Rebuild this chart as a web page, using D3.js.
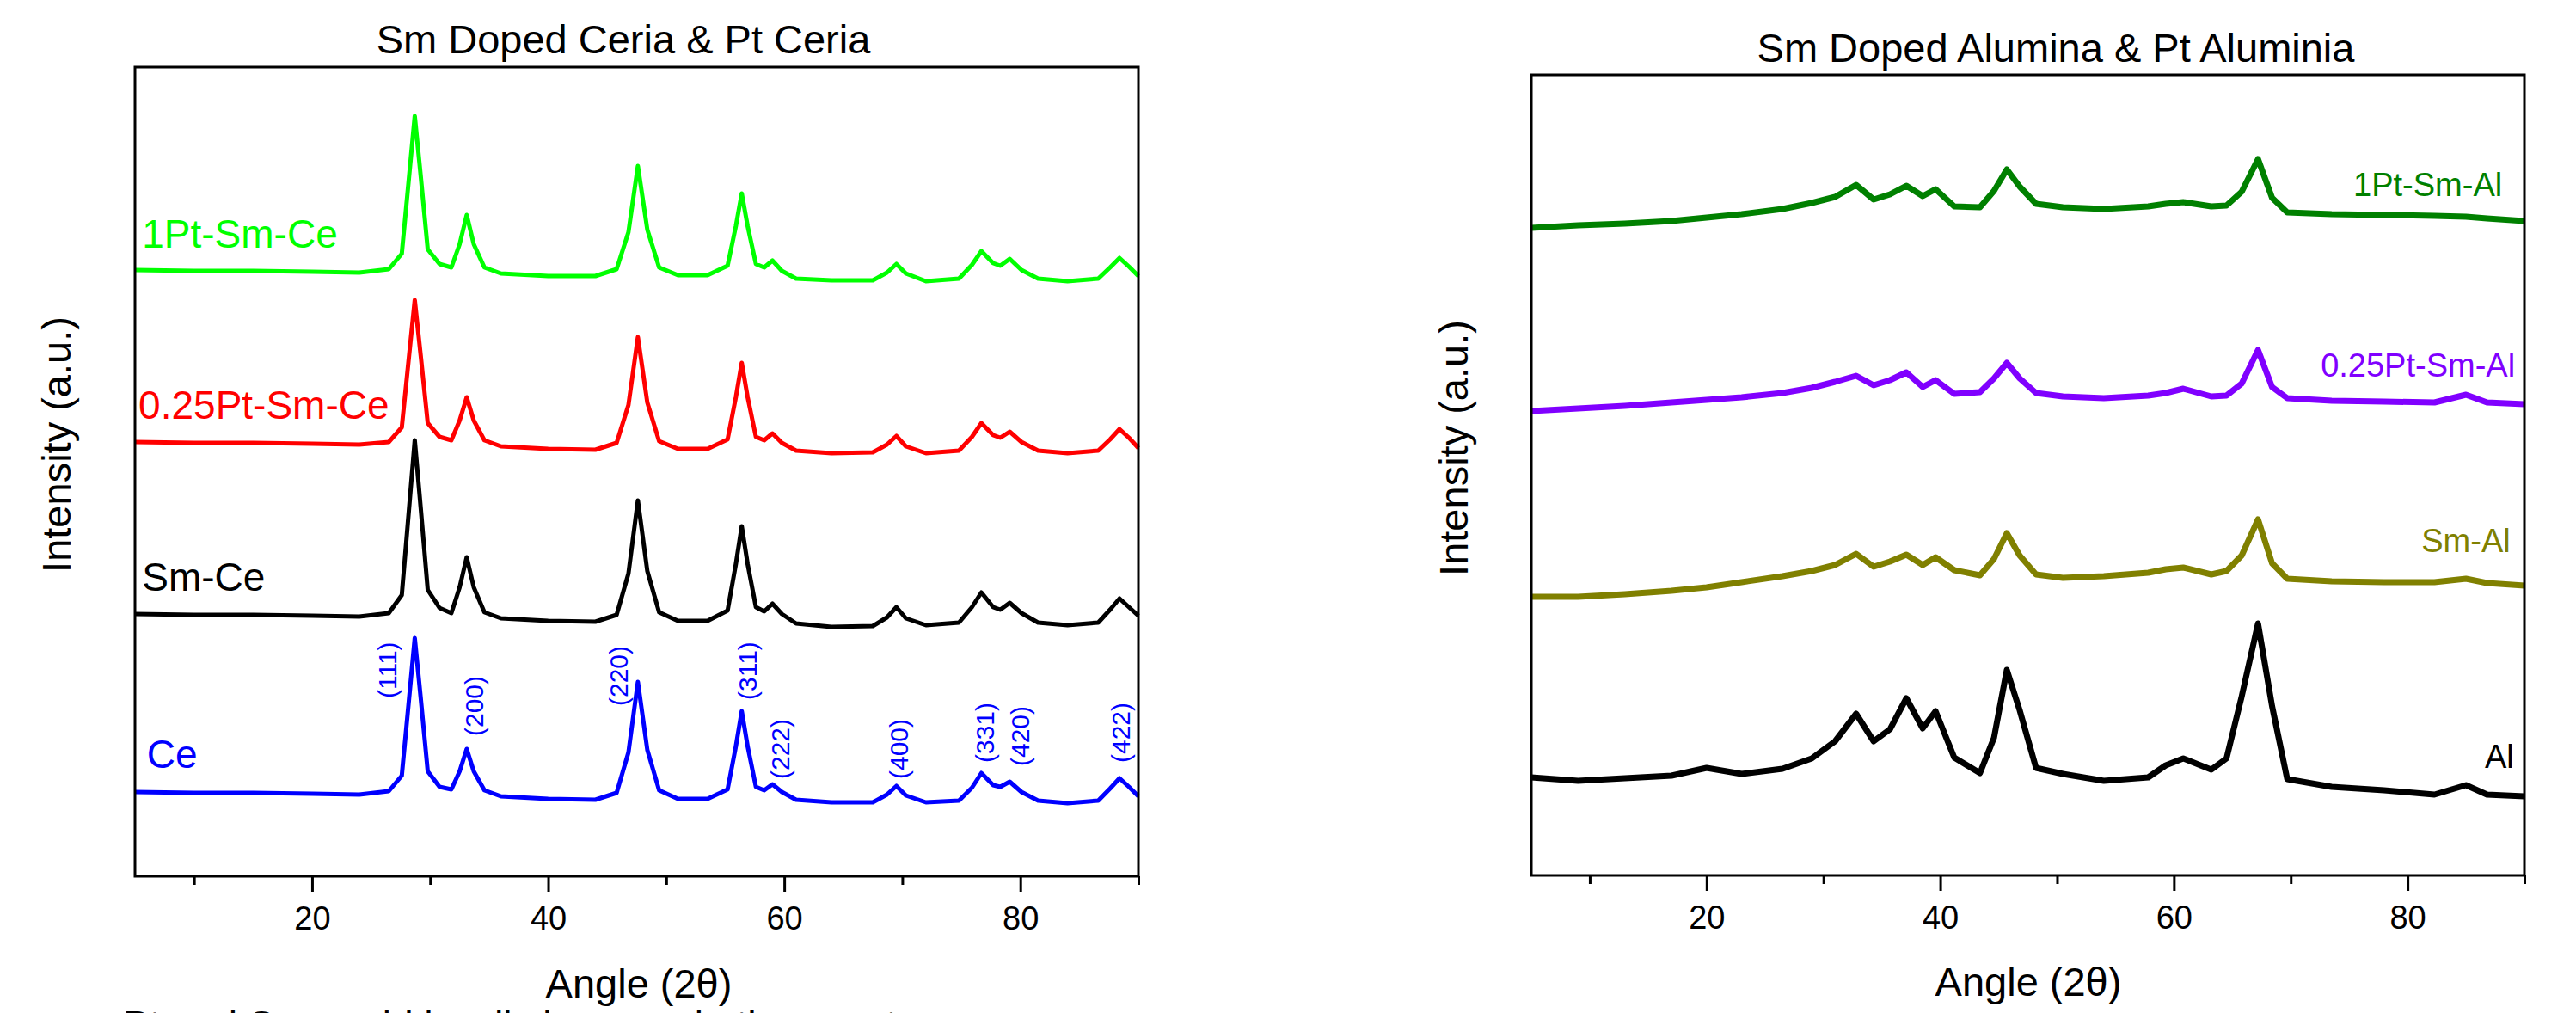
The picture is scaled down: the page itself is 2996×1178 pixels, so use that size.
<!DOCTYPE html>
<html>
<head>
<meta charset="utf-8">
<script src="https://cdn.jsdelivr.net/npm/d3@7"></script>
<style>
  body { margin: 0; background: #fff; }
  svg { display: block; font-family: "Liberation Sans", Arial, sans-serif; }
</style>
</head>
<body>
<script>
// XRD patterns: doped ceria (left) and doped alumina (right), stacked traces

// ceria panel, 2theta positions and intensities (a.u., already offset per trace)
const ceriaAngles = [5, 10, 15, 20, 24, 26.5, 27.6, 28.2, 28.7, 29.2, 29.8, 30.8, 31.8, 32.5, 33.1,
  33.7, 34.6, 36, 40, 44, 45.8, 46.8, 47.6, 48.4, 49.4, 51, 53.5, 55.2, 55.9, 56.4,
  56.9, 57.6, 58.3, 59.0, 59.8, 61, 64, 67.5, 68.7, 69.5, 70.3, 72, 74.8, 75.9, 76.7,
  77.7, 78.3, 79.1, 80.1, 81.5, 84, 86.6, 87.6, 88.4, 89.2, 90];

const ceValues = [98, 97, 97, 96, 95, 99, 117, 204, 277, 208, 122, 104, 101, 122, 148,
  122, 100, 93, 90, 89, 97, 144, 226, 147, 100, 90, 90, 101, 151, 192,
  151, 104, 100, 107, 98, 89, 86, 86, 95, 105, 94, 86, 88, 103, 120,
  106, 104, 110, 98, 88, 85, 88, 102, 114, 104, 93];

const smCeValues = [305, 304, 304, 303, 302, 306, 327, 425, 507, 429, 333, 312, 306, 336, 371,
  336, 307, 300, 297, 296, 304, 352, 437, 355, 307, 297, 297, 309, 363, 407,
  363, 313, 308, 317, 305, 294, 290, 291, 301, 313, 300, 292, 295, 313, 330,
  313, 310, 318, 306, 295, 292, 295, 310, 323, 313, 303];

const pt025CeValues = [505, 504, 504, 503, 502, 505, 522, 603, 670, 606, 527, 511, 507, 530, 557,
  530, 507, 500, 497, 496, 504, 548, 627, 551, 506, 497, 497, 508, 557, 597,
  557, 511, 507, 515, 504, 495, 492, 493, 502, 512, 500, 492, 495, 511, 527,
  513, 510, 517, 505, 495, 492, 495, 508, 520, 510, 498];

const pt1CeValues = [705, 704, 704, 703, 702, 706, 724, 811, 884, 815, 729, 712, 708, 735, 769,
  735, 708, 701, 698, 698, 706, 749, 826, 752, 708, 699, 699, 710, 756, 794,
  756, 712, 708, 716, 704, 695, 693, 693, 702, 712, 701, 692, 695, 711, 727,
  713, 710, 718, 705, 695, 692, 695, 708, 719, 709, 698];

// reflections marked on the Ce trace
const hklLabels = ['(111)', '(200)', '(220)', '(311)', '(222)', '(400)', '(331)', '(420)', '(422)'];
const hklAngles = [26.4, 33.7, 46.0, 56.9, 59.7, 69.7, 77.0, 80.0, 88.5];
const hklHeights = [207, 163, 198, 205, 113, 113, 132, 128, 132];

// alumina panel
const aluminaAngles = [5, 9, 13, 17, 20, 23, 26.5, 29, 31, 32.8, 34.3, 35.7, 37.1, 38.5, 39.6,
  41.2, 43.4, 44.6, 45.7, 46.8, 48.2, 50.5, 54, 57.8, 59.3, 60.8, 63.2, 64.5, 65.8, 67.2,
  68.4, 69.7, 73.5, 78, 82.3, 85, 86.8, 90];

const alValues = [114, 110, 113, 116, 125, 118, 124, 136, 156, 188, 156, 170, 206, 171, 191,
  137, 119, 160, 239, 192, 125, 118, 110, 114, 128, 136, 123, 136, 208, 293,
  197, 112, 103, 99, 94, 105, 94, 92];

const smAlValues = [324, 324, 327, 331, 335, 341, 348, 354, 361, 374, 359, 365, 373, 361, 370,
  355, 349, 368, 398, 372, 350, 346, 348, 352, 356, 358, 350, 354, 372, 414,
  363, 345, 342, 341, 341, 345, 340, 337];

const pt025AlValues = [540, 543, 546, 550, 553, 556, 561, 567, 574, 581, 570, 576, 585, 568, 576,
  560, 562, 578, 596, 578, 561, 557, 555, 558, 561, 566, 557, 558, 572, 611,
  568, 555, 552, 551, 550, 559, 550, 548];

const pt1AlValues = [753, 756, 758, 761, 765, 769, 775, 782, 789, 803, 786, 792, 802, 790, 798,
  778, 777, 796, 821, 801, 781, 777, 775, 778, 781, 783, 778, 779, 795, 833,
  788, 771, 769, 768, 767, 766, 764, 761];

const majorTicks = [20, 40, 60, 80];
const minorTicks = [10, 30, 50, 70, 90];

const svg = d3.select('body').append('svg')
  .attr('width', 2996)
  .attr('height', 1178);

const panels = [
  {
    title: 'Sm Doped Ceria & Pt Ceria', titleX: 725, titleY: 62,
    left: 157, right: 1324, top: 78, bottom: 1019,
    yTitleX: 82, yTitleY: 517, xTitleX: 743, xTitleY: 1160,
    angles: ceriaAngles, stroke: 5, labelSize: 46, labelAnchor: 'start',
    series: [
      { name: 'Ce', values: ceValues, color: '#0000ff', labelAt: [6.0, 126] },
      { name: 'Sm-Ce', values: smCeValues, color: '#000000', labelAt: [5.6, 332] },
      { name: '0.25Pt-Sm-Ce', values: pt025CeValues, color: '#ff0000', labelAt: [5.3, 532] },
      { name: '1Pt-Sm-Ce', values: pt1CeValues, color: '#00ff00', labelAt: [5.6, 731] }
    ],
    hkl: true
  },
  {
    title: 'Sm Doped Alumina & Pt Aluminia', titleX: 2391, titleY: 72,
    left: 1781, right: 2936, top: 87, bottom: 1018,
    yTitleX: 1707, yTitleY: 521, xTitleX: 2359, xTitleY: 1158,
    angles: aluminaAngles, stroke: 7, labelSize: 38, labelAnchor: 'end',
    series: [
      { name: 'Al', values: alValues, color: '#000000', labelAt: [89.1, 125] },
      { name: 'Sm-Al', values: smAlValues, color: '#808000', labelAt: [88.8, 376] },
      { name: '0.25Pt-Sm-Al', values: pt025AlValues, color: '#8000ff', labelAt: [89.2, 580] },
      { name: '1Pt-Sm-Al', values: pt1AlValues, color: '#008000', labelAt: [88.1, 790] }
    ],
    hkl: false
  }
];

panels.forEach(p => {
  const x = d3.scaleLinear().domain([5, 90]).range([p.left, p.right]);
  const y = d3.scaleLinear().domain([0, p.bottom - p.top]).range([p.bottom, p.top]);
  const g = svg.append('g');

  const line = d3.line()
    .x((d, i) => x(p.angles[i]))
    .y(d => y(d));

  p.series.forEach(s => {
    g.append('path')
      .attr('d', line(s.values))
      .attr('fill', 'none')
      .attr('stroke', s.color)
      .attr('stroke-width', p.stroke)
      .attr('stroke-linejoin', 'round');

    g.append('text')
      .attr('x', x(s.labelAt[0]))
      .attr('y', y(s.labelAt[1]))
      .attr('text-anchor', p.labelAnchor)
      .attr('font-size', p.labelSize)
      .attr('fill', s.color)
      .text(s.name);
  });

  if (p.hkl) {
    hklLabels.forEach((lab, i) => {
      g.append('text')
        .attr('transform', `translate(${x(hklAngles[i])}, ${y(hklHeights[i])}) rotate(-90)`)
        .attr('dy', '0.35em')
        .attr('font-size', 30)
        .attr('fill', '#0000ff')
        .text(lab);
    });
  }

  // frame
  g.append('rect')
    .attr('x', p.left)
    .attr('y', p.top)
    .attr('width', p.right - p.left)
    .attr('height', p.bottom - p.top)
    .attr('fill', 'none')
    .attr('stroke', '#000')
    .attr('stroke-width', 3);

  const major = g.append('g')
    .attr('transform', `translate(0, ${p.bottom})`)
    .call(d3.axisBottom(x).tickValues(majorTicks).tickSize(18).tickFormat(d3.format('d')));
  major.attr('font-family', null).attr('font-size', 38);
  major.select('.domain').remove();
  major.selectAll('line').attr('stroke-width', 3);
  major.selectAll('text').attr('y', 62).attr('dy', null).attr('fill', '#000');

  const minor = g.append('g')
    .attr('transform', `translate(0, ${p.bottom})`)
    .call(d3.axisBottom(x).tickValues(minorTicks).tickSize(10).tickFormat(''));
  minor.select('.domain').remove();
  minor.selectAll('line').attr('stroke-width', 3);

  svg.append('text')
    .attr('x', p.titleX)
    .attr('y', p.titleY)
    .attr('text-anchor', 'middle')
    .attr('font-size', 47)
    .text(p.title);

  svg.append('text')
    .attr('x', p.xTitleX)
    .attr('y', p.xTitleY)
    .attr('text-anchor', 'middle')
    .attr('font-size', 47)
    .text('Angle (2θ)');

  svg.append('text')
    .attr('transform', `translate(${p.yTitleX}, ${p.yTitleY}) rotate(-90)`)
    .attr('text-anchor', 'middle')
    .attr('font-size', 47)
    .text('Intensity (a.u.)');
});

// caption line of the surrounding document, cut by the bottom edge
svg.append('text')
  .attr('x', 143)
  .attr('y', 1208)
  .attr('font-size', 46)
  .text('Pt and Sm could hardly be seen in the spectra');
</script>
</body>
</html>
